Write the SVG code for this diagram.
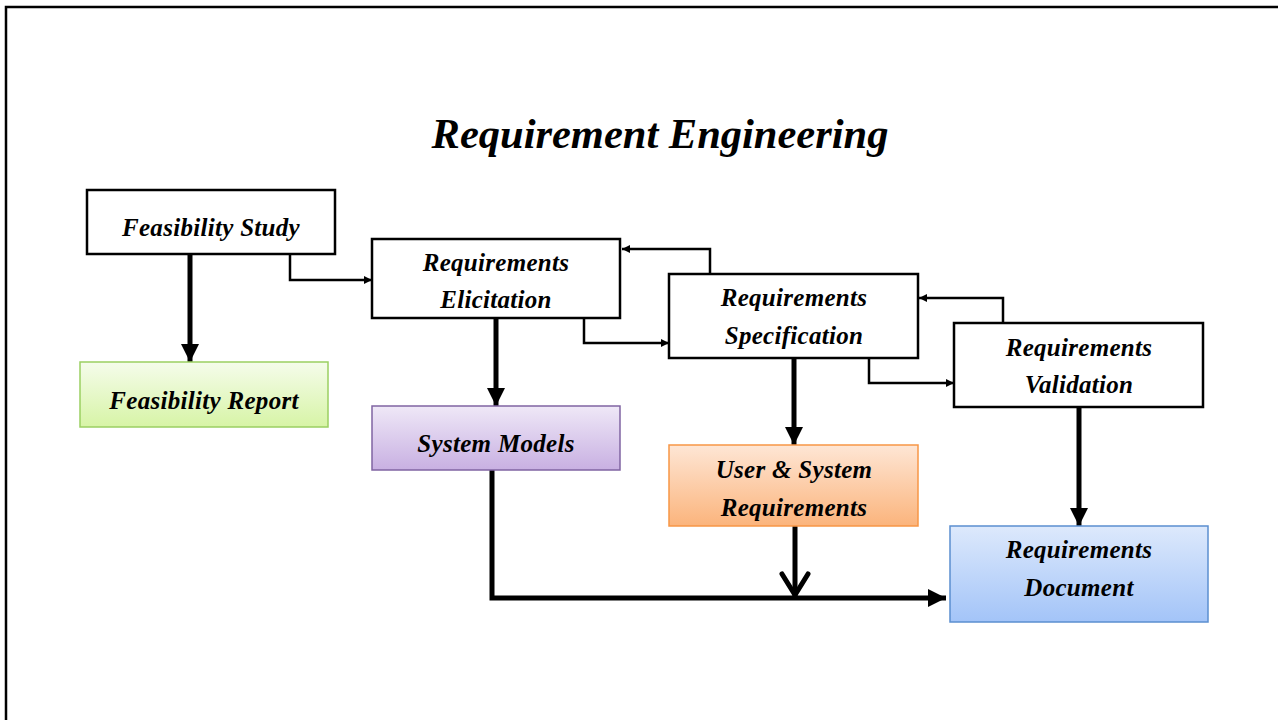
<svg xmlns="http://www.w3.org/2000/svg" width="1278" height="720" viewBox="0 0 1278 720">
<style>
.t{font-family:"Liberation Serif","Times New Roman",serif;font-weight:bold;font-style:italic;fill:#000;text-anchor:middle}
.n{font-size:25px;letter-spacing:0.3px}
.box{fill:#fff;stroke:#000;stroke-width:2.5}
.thick{stroke:#000;stroke-width:5;fill:none}
.thin{stroke:#000;stroke-width:2.5;fill:none}
</style>
<defs>
<linearGradient id="gG" x1="0" y1="0" x2="0" y2="1"><stop offset="0" stop-color="#f5fceb"/><stop offset="1" stop-color="#d7f4a6"/></linearGradient>
<linearGradient id="gP" x1="0" y1="0" x2="0" y2="1"><stop offset="0" stop-color="#efe8f7"/><stop offset="1" stop-color="#c8b0e2"/></linearGradient>
<linearGradient id="gO" x1="0" y1="0" x2="0" y2="1"><stop offset="0" stop-color="#fee6d5"/><stop offset="1" stop-color="#fbb47c"/></linearGradient>
<linearGradient id="gB" x1="0" y1="0" x2="0" y2="1"><stop offset="0" stop-color="#dde9fc"/><stop offset="1" stop-color="#a3c4f8"/></linearGradient>
<marker id="big" viewBox="0 0 10 10" refX="10" refY="5" markerWidth="3.6" markerHeight="3.6" markerUnits="strokeWidth" orient="auto"><path d="M0,0L10,5L0,10Z" fill="#000"/></marker>
<marker id="small" viewBox="0 0 10 10" refX="10" refY="5" markerWidth="3.2" markerHeight="3.2" markerUnits="strokeWidth" orient="auto"><path d="M0,0L10,5L0,10Z" fill="#000"/></marker>
</defs>
<rect x="6" y="7" width="1320" height="800" fill="#fff" stroke="#000" stroke-width="2.5"/>
<text class="t" x="660" y="148" font-size="42.5">Requirement Engineering</text>

<g id="connectors">
<path class="thick" d="M190,254V362" marker-end="url(#big)"/>
<path class="thick" d="M496,318V406" marker-end="url(#big)"/>
<path class="thick" d="M794,358V445" marker-end="url(#big)"/>
<path class="thick" d="M1079,407V526" marker-end="url(#big)"/>
<path class="thin" d="M290,254V280H372" marker-end="url(#small)"/>
<path class="thin" d="M584,318V343H669" marker-end="url(#small)"/>
<path class="thin" d="M869,358V383H954" marker-end="url(#small)"/>
<path class="thin" d="M710,274V249H622" marker-end="url(#small)"/>
<path class="thin" d="M1003,323V298H919" marker-end="url(#small)"/>
<path class="thick" d="M492,470V598H946" marker-end="url(#big)"/>
<path class="thick" d="M795,526V596"/>
<path class="thick" d="M782,574L795,595L808,574" stroke-linecap="round" stroke-linejoin="round"/>
</g>

<g id="feasibility-study">
<rect class="box" x="87" y="190" width="248" height="64"/>
<text class="t n" x="211" y="236">Feasibility Study</text>
</g>
<g id="feasibility-report">
<rect x="80" y="362" width="248" height="65" fill="url(#gG)" stroke="#9bcf62" stroke-width="1.5"/>
<text class="t n" x="204" y="409">Feasibility Report</text>
</g>
<g id="requirements-elicitation">
<rect class="box" x="372" y="239" width="248" height="79"/>
<text class="t n" x="496" y="271">Requirements</text>
<text class="t n" x="496" y="308">Elicitation</text>
</g>
<g id="system-models">
<rect x="372" y="406" width="248" height="64" fill="url(#gP)" stroke="#8064a2" stroke-width="1.5"/>
<text class="t n" x="496" y="452">System Models</text>
</g>
<g id="requirements-specification">
<rect class="box" x="669" y="274" width="249" height="84"/>
<text class="t n" x="794" y="306">Requirements</text>
<text class="t n" x="794" y="344">Specification</text>
</g>
<g id="user-system-requirements">
<rect x="669" y="445" width="249" height="81" fill="url(#gO)" stroke="#f79646" stroke-width="1.5"/>
<text class="t n" x="794" y="478">User &amp; System</text>
<text class="t n" x="794" y="516">Requirements</text>
</g>
<g id="requirements-validation">
<rect class="box" x="954" y="323" width="249" height="84"/>
<text class="t n" x="1079" y="356">Requirements</text>
<text class="t n" x="1079" y="393">Validation</text>
</g>
<g id="requirements-document">
<rect x="950" y="526" width="258" height="96" fill="url(#gB)" stroke="#5b8fd0" stroke-width="1.5"/>
<text class="t n" x="1079" y="558">Requirements</text>
<text class="t n" x="1079" y="596">Document</text>
</g>
</svg>
